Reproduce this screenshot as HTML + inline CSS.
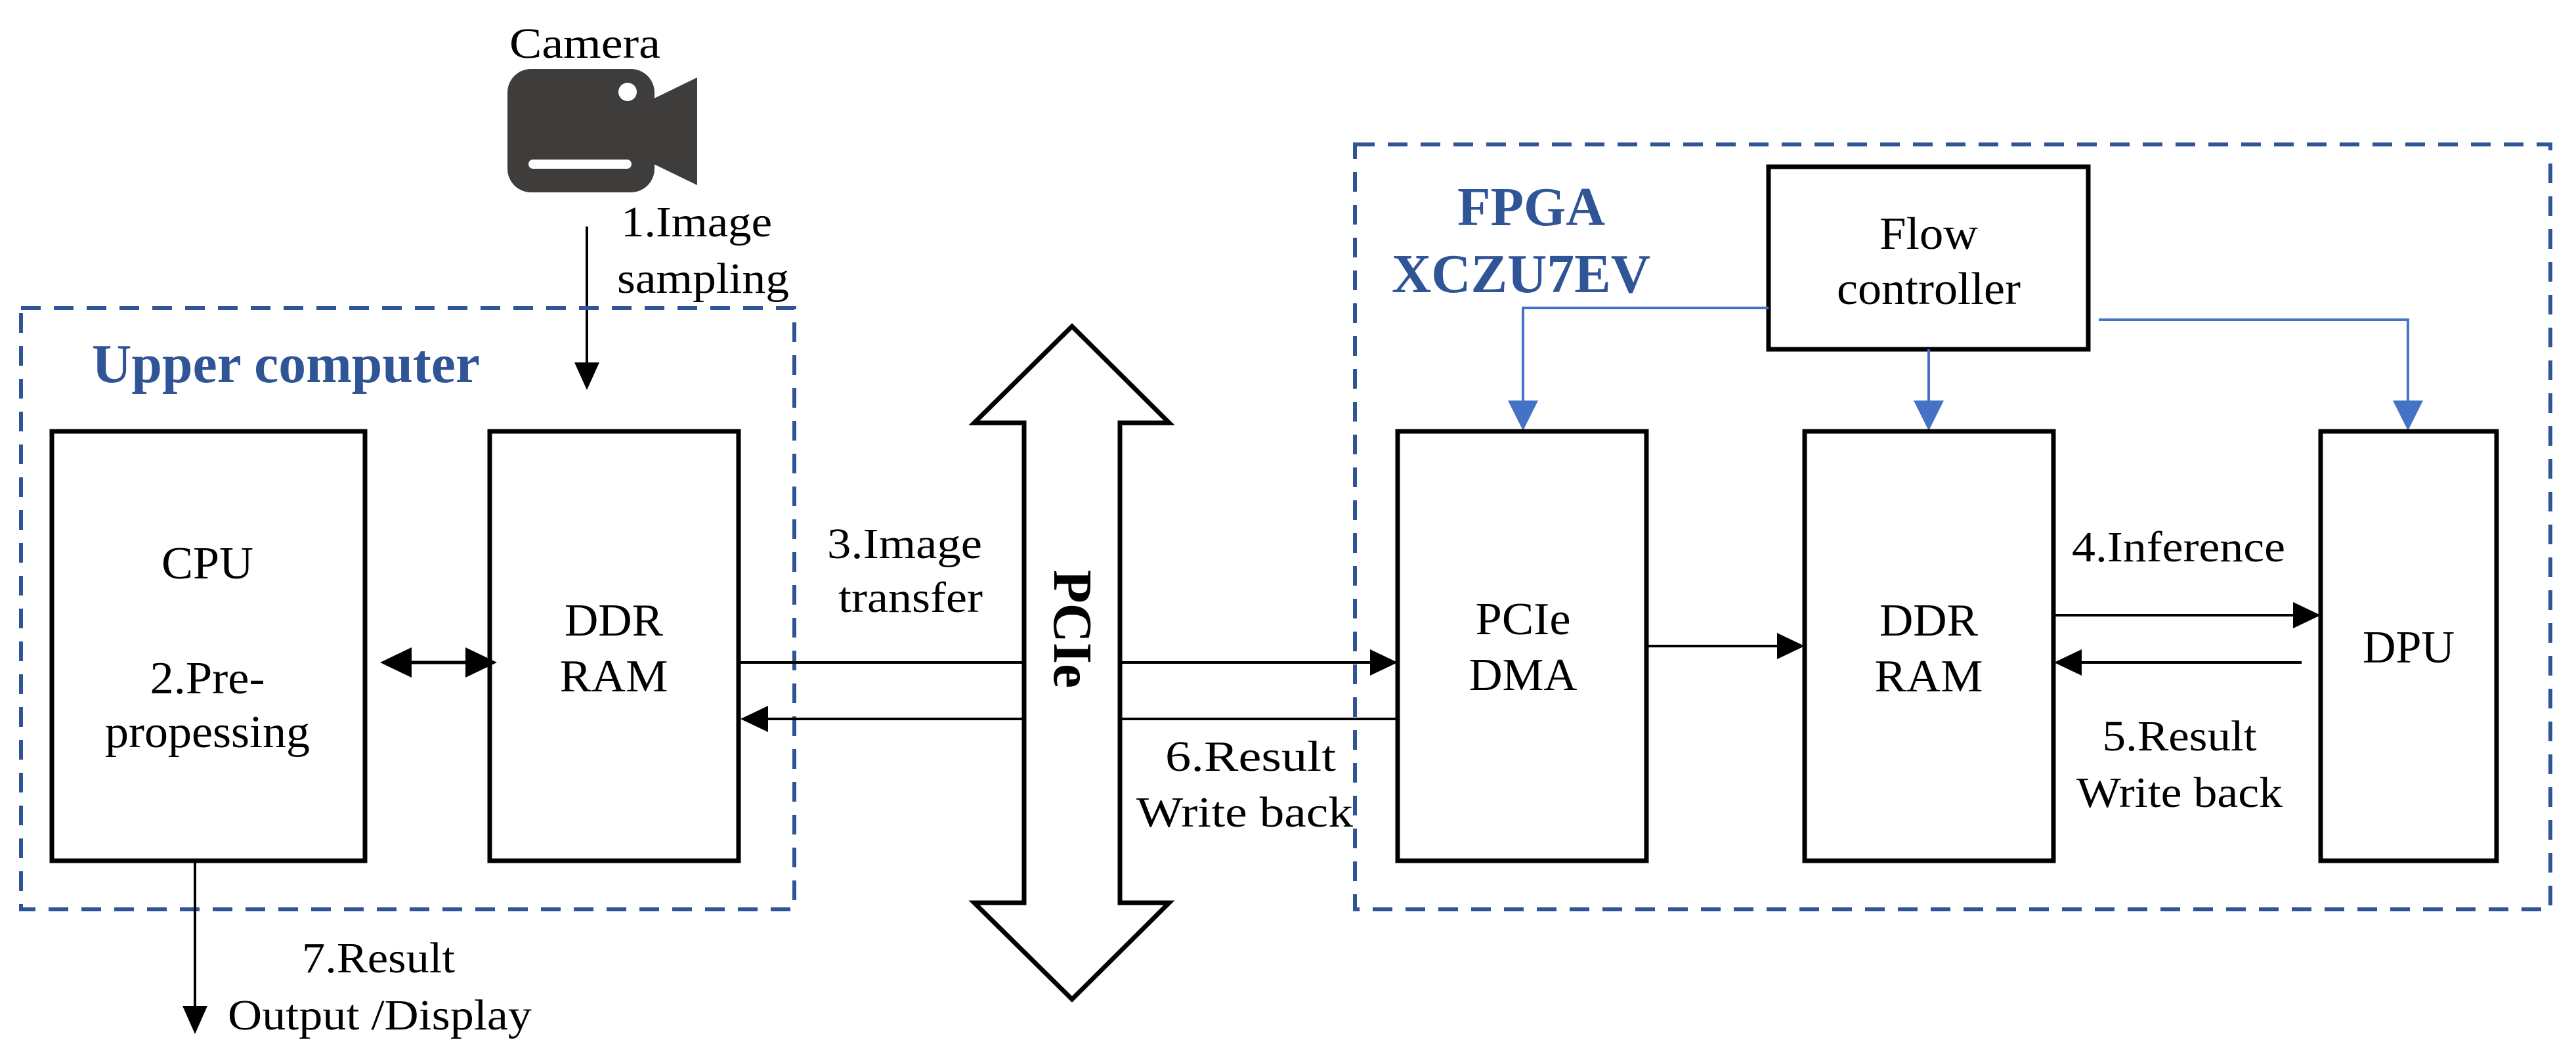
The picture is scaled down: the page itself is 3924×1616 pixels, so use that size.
<!DOCTYPE html>
<html><head><meta charset="utf-8"><style>html,body{margin:0;padding:0;background:#fff}svg{display:block}svg text{font-family:"Liberation Serif","Times New Roman",Times,"Noto Serif CJK SC",serif}</style></head>
<body>
<svg width="3924" height="1616" viewBox="0 0 3924 1616" xmlns="http://www.w3.org/2000/svg">
<rect width="3924" height="1616" fill="#fff"/>
<!-- Camera -->
<text x="891" y="88" font-size="66" text-anchor="middle" textLength="230" lengthAdjust="spacingAndGlyphs">Camera</text>
<rect x="773" y="105" width="224" height="188" rx="36" fill="#3f3d3c"/>
<polygon points="990,153 1062,118 1062,282 990,247" fill="#3f3d3c"/>
<circle cx="956" cy="140" r="14" fill="#fff"/>
<rect x="805" y="243" width="157" height="14" rx="7" fill="#fff"/>
<line x1="894" y1="345" x2="894" y2="560" stroke="#000" stroke-width="4"/>
<polygon points="875,552 913,552 894,594" fill="#000"/>
<text x="946" y="360" font-size="66" textLength="230" lengthAdjust="spacingAndGlyphs">1.Image</text>
<text x="940" y="446" font-size="66" textLength="262" lengthAdjust="spacingAndGlyphs">sampling</text>
<rect x="32" y="469" width="1178" height="916" fill="none" stroke="#2f5597" stroke-width="6" stroke-dasharray="30,20"/>
<text x="140" y="582" font-size="84" font-weight="bold" fill="#2f5597" textLength="591" lengthAdjust="spacingAndGlyphs">Upper computer</text>
<rect x="79" y="657" width="477" height="654" fill="none" stroke="#000" stroke-width="7"/>
<text x="316" y="881" font-size="70" text-anchor="middle" textLength="140" lengthAdjust="spacingAndGlyphs">CPU</text>
<text x="316" y="1056" font-size="70" text-anchor="middle" textLength="175" lengthAdjust="spacingAndGlyphs">2.Pre-</text>
<text x="316" y="1138" font-size="70" text-anchor="middle" textLength="312" lengthAdjust="spacingAndGlyphs">propessing</text>
<rect x="746" y="657" width="379" height="654" fill="none" stroke="#000" stroke-width="7"/>
<text x="935" y="968" font-size="70" text-anchor="middle" textLength="150" lengthAdjust="spacingAndGlyphs">DDR</text>
<text x="935" y="1053" font-size="70" text-anchor="middle" textLength="165" lengthAdjust="spacingAndGlyphs">RAM</text>
<line x1="600" y1="1009" x2="740" y2="1009" stroke="#000" stroke-width="5"/>
<polygon points="579,1009 627,986 627,1032" fill="#000"/>
<polygon points="757,1009 709,986 709,1032" fill="#000"/>
<line x1="297" y1="1311" x2="297" y2="1540" stroke="#000" stroke-width="4"/>
<polygon points="278,1532 316,1532 297,1575" fill="#000"/>
<text x="460" y="1481" font-size="66" textLength="233" lengthAdjust="spacingAndGlyphs">7.Result</text>
<text x="347" y="1568" font-size="66" textLength="463" lengthAdjust="spacingAndGlyphs">Output /Display</text>
<text x="1260" y="850" font-size="66" textLength="236" lengthAdjust="spacingAndGlyphs">3.Image</text>
<text x="1277" y="932" font-size="66" textLength="220" lengthAdjust="spacingAndGlyphs">transfer</text>
<line x1="1125" y1="1009" x2="1560" y2="1009" stroke="#000" stroke-width="4"/>
<line x1="1706" y1="1009" x2="2100" y2="1009" stroke="#000" stroke-width="4"/>
<polygon points="2129,1009 2087,989 2087,1029" fill="#000"/>
<line x1="1150" y1="1095" x2="1560" y2="1095" stroke="#000" stroke-width="4"/>
<line x1="1706" y1="1095" x2="2129" y2="1095" stroke="#000" stroke-width="4"/>
<polygon points="1128,1095 1170,1075 1170,1115" fill="#000"/>
<text x="1775" y="1174" font-size="66" textLength="260" lengthAdjust="spacingAndGlyphs">6.Result</text>
<text x="1731" y="1259" font-size="66" textLength="330" lengthAdjust="spacingAndGlyphs">Write back</text>
<polygon points="1633,497 1781,644 1706,644 1706,1375 1781,1375 1633,1522 1484,1375 1560,1375 1560,644 1484,644" fill="#fff" stroke="#000" stroke-width="7"/>
<text x="0" y="0" font-size="84" font-weight="bold" text-anchor="middle" textLength="180" lengthAdjust="spacingAndGlyphs" transform="translate(1606,958) rotate(90)">PCIe</text>
<rect x="2064" y="220" width="1821" height="1165" fill="none" stroke="#2f5597" stroke-width="6" stroke-dasharray="30,20"/>
<text x="2220" y="343" font-size="84" font-weight="bold" fill="#2f5597" textLength="225" lengthAdjust="spacingAndGlyphs">FPGA</text>
<text x="2120" y="445" font-size="84" font-weight="bold" fill="#2f5597" textLength="394" lengthAdjust="spacingAndGlyphs">XCZU7EV</text>
<rect x="2694" y="254" width="487" height="278" fill="none" stroke="#000" stroke-width="7"/>
<text x="2938" y="379" font-size="70" text-anchor="middle" textLength="150" lengthAdjust="spacingAndGlyphs">Flow</text>
<text x="2938" y="463" font-size="70" text-anchor="middle" textLength="280" lengthAdjust="spacingAndGlyphs">controller</text>
<g stroke="#4472c4" stroke-width="4" fill="none">
<polyline points="2694,469 2320,469 2320,615"/>
<line x1="2938" y1="532" x2="2938" y2="615"/>
<polyline points="3197,487 3668,487 3668,615"/>
</g>
<g fill="#4472c4">
<polygon points="2297,610 2343,610 2320,656"/>
<polygon points="2915,610 2961,610 2938,656"/>
<polygon points="3645,610 3691,610 3668,656"/>
</g>
<rect x="2129" y="657" width="379" height="654" fill="none" stroke="#000" stroke-width="7"/>
<text x="2320" y="966" font-size="70" text-anchor="middle" textLength="145" lengthAdjust="spacingAndGlyphs">PCIe</text>
<text x="2320" y="1051" font-size="70" text-anchor="middle" textLength="165" lengthAdjust="spacingAndGlyphs">DMA</text>
<rect x="2749" y="657" width="379" height="654" fill="none" stroke="#000" stroke-width="7"/>
<text x="2938" y="968" font-size="70" text-anchor="middle" textLength="150" lengthAdjust="spacingAndGlyphs">DDR</text>
<text x="2938" y="1053" font-size="70" text-anchor="middle" textLength="165" lengthAdjust="spacingAndGlyphs">RAM</text>
<rect x="3535" y="657" width="268" height="654" fill="none" stroke="#000" stroke-width="7"/>
<text x="3669" y="1009" font-size="70" text-anchor="middle" textLength="140" lengthAdjust="spacingAndGlyphs">DPU</text>
<line x1="2508" y1="984" x2="2710" y2="984" stroke="#000" stroke-width="4"/>
<polygon points="2749,984 2707,964 2707,1004" fill="#000"/>
<line x1="3128" y1="937" x2="3500" y2="937" stroke="#000" stroke-width="4"/>
<polygon points="3535,937 3493,917 3493,957" fill="#000"/>
<line x1="3160" y1="1009" x2="3506" y2="1009" stroke="#000" stroke-width="4"/>
<polygon points="3129,1009 3171,989 3171,1029" fill="#000"/>
<text x="3156" y="855" font-size="66" textLength="325" lengthAdjust="spacingAndGlyphs">4.Inference</text>
<text x="3320" y="1143" font-size="66" text-anchor="middle" textLength="235" lengthAdjust="spacingAndGlyphs">5.Result</text>
<text x="3320" y="1229" font-size="66" text-anchor="middle" textLength="314" lengthAdjust="spacingAndGlyphs">Write back</text>
</svg>
</body></html>
